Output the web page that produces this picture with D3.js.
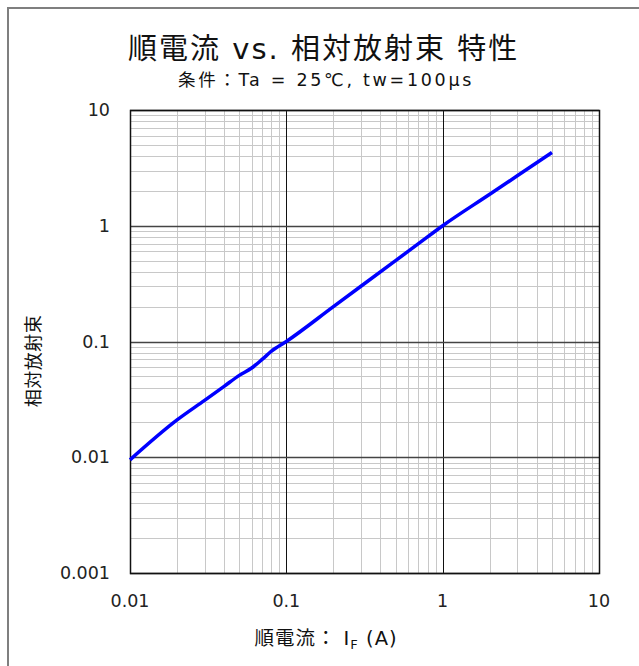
<!DOCTYPE html>
<html>
<head>
<meta charset="utf-8">
<script src="https://cdn.jsdelivr.net/npm/d3@7"></script>
<style>
  html, body { margin: 0; background: #fff; overflow: hidden; }
  svg { display: block; }
  text { font-family: "DejaVu Sans", "Noto Sans CJK JP", sans-serif; fill: #111; }
</style>
</head>
<body>
<div id="chart"></div>
<script>
// forward current (A) vs relative radiant flux
const current = [0.01, 0.02, 0.03, 0.04, 0.05, 0.06, 0.07, 0.08, 0.1, 0.2, 0.3, 0.5, 0.7, 1, 2, 3, 5];
const flux = [0.0095, 0.021, 0.031, 0.041, 0.051, 0.059, 0.07, 0.082, 0.1, 0.2, 0.3, 0.5, 0.7, 1.0, 1.87, 2.7, 4.3];

const xTicks = [0.01, 0.1, 1, 10];
const yTicks = [0.001, 0.01, 0.1, 1, 10];
const xTickLabels = ['0.01', '0.1', '1', '10'];
const yTickLabels = ['0.001', '0.01', '0.1', '1', '10'];

const width = 639, height = 666;
const margin = {top: 110, right: 40, bottom: 93, left: 130};

const svg = d3.select('#chart').append('svg')
	.attr('width', width)
	.attr('height', height);

// outer frame: only the top and left edges are inside the picture
svg.append('path')
	.attr('d', `M8,${height} V8 H${width}`)
	.attr('fill', 'none')
	.attr('stroke', '#7f7f7f')
	.attr('stroke-width', 2);

const x = d3.scaleLog()
	.domain([0.01, 10])
	.range([margin.left, width - margin.right]);

const y = d3.scaleLog()
	.domain([0.001, 10])
	.range([height - margin.bottom, margin.top]);

// minor grid: 2..9 within each decade
function minors(lo, hi){
	const out = [];
	for (let d = lo; d < hi; d *= 10){
		for (let k = 2; k <= 9; k++) out.push(d * k);
	}
	return out;
}

const grid = svg.append('g');

grid.selectAll('.xminor')
	.data(minors(0.01, 10))
	.enter().append('line')
		.attr('x1', d => Math.round(x(d)) + 0.5)
		.attr('x2', d => Math.round(x(d)) + 0.5)
		.attr('y1', y(10)).attr('y2', y(0.001))
		.attr('stroke', '#c8c8c8');

grid.selectAll('.yminor')
	.data(minors(0.001, 10))
	.enter().append('line')
		.attr('y1', d => Math.round(y(d)) + 0.5)
		.attr('y2', d => Math.round(y(d)) + 0.5)
		.attr('x1', x(0.01)).attr('x2', x(10))
		.attr('stroke', '#c8c8c8');

grid.selectAll('.xmajor')
	.data(xTicks)
	.enter().append('line')
		.attr('x1', d => Math.round(x(d)) + 0.5)
		.attr('x2', d => Math.round(x(d)) + 0.5)
		.attr('y1', y(10)).attr('y2', y(0.001))
		.attr('stroke', '#111');

grid.selectAll('.ymajor')
	.data(yTicks)
	.enter().append('line')
		.attr('y1', d => Math.round(y(d)) + 0.5)
		.attr('y2', d => Math.round(y(d)) + 0.5)
		.attr('x1', x(0.01)).attr('x2', x(10))
		.attr('stroke', '#444')
		.attr('stroke-width', 1.5);

// plot frame
svg.append('rect')
	.attr('x', x(0.01) + 0.5).attr('y', y(10) + 0.5)
	.attr('width', x(10) - x(0.01)).attr('height', y(0.001) - y(10))
	.attr('fill', 'none')
	.attr('stroke', '#111')
	.attr('stroke-width', 1.5);

// tick labels
svg.append('g').selectAll('text')
	.data(xTicks)
	.enter().append('text')
		.attr('x', d => x(d))
		.attr('y', y(0.001) + 34)
		.attr('text-anchor', 'middle')
		.style('font-size', '17.5px')
		.style('fill', '#222')
		.text((d, i) => xTickLabels[i]);

svg.append('g').selectAll('text')
	.data(yTicks)
	.enter().append('text')
		.attr('x', x(0.01) - 20)
		.attr('y', d => y(d) + 6)
		.attr('text-anchor', 'end')
		.style('font-size', '17.5px')
		.style('fill', '#222')
		.text((d, i) => yTickLabels[i]);

// curve
const line = d3.line()
	.x((d, i) => x(current[i]))
	.y(d => y(d))
	.curve(d3.curveMonotoneX);

svg.append('path')
	.datum(flux)
	.attr('d', line)
	.attr('fill', 'none')
	.attr('stroke', '#0000ff')
	.attr('stroke-width', 3.5);

// titles
svg.append('text')
	.attr('x', 128).attr('y', 59)
	.style('font-size', '29px')
	.style('letter-spacing', '2px')
	.text('順電流 vs. 相対放射束 特性');

svg.append('text')
	.attr('x', 178).attr('y', 86)
	.style('font-size', '17.5px')
	.style('letter-spacing', '2.7px')
	.text('条件：Ta = 25℃, tw=100μs');

svg.append('text')
	.attr('transform', 'translate(40,361) rotate(-90)')
	.attr('text-anchor', 'middle')
	.style('font-size', '18px')
	.style('letter-spacing', '0.5px')
	.text('相対放射束');

const xl = svg.append('text')
	.attr('x', 326).attr('y', 645)
	.attr('text-anchor', 'middle')
	.style('font-size', '19.5px')
	.style('letter-spacing', '1px');
xl.append('tspan').text('順電流： I');
xl.append('tspan').attr('dy', 4).style('font-size', '13px').text('F');
xl.append('tspan').attr('dy', -4).text(' (A)');
</script>
</body>
</html>
